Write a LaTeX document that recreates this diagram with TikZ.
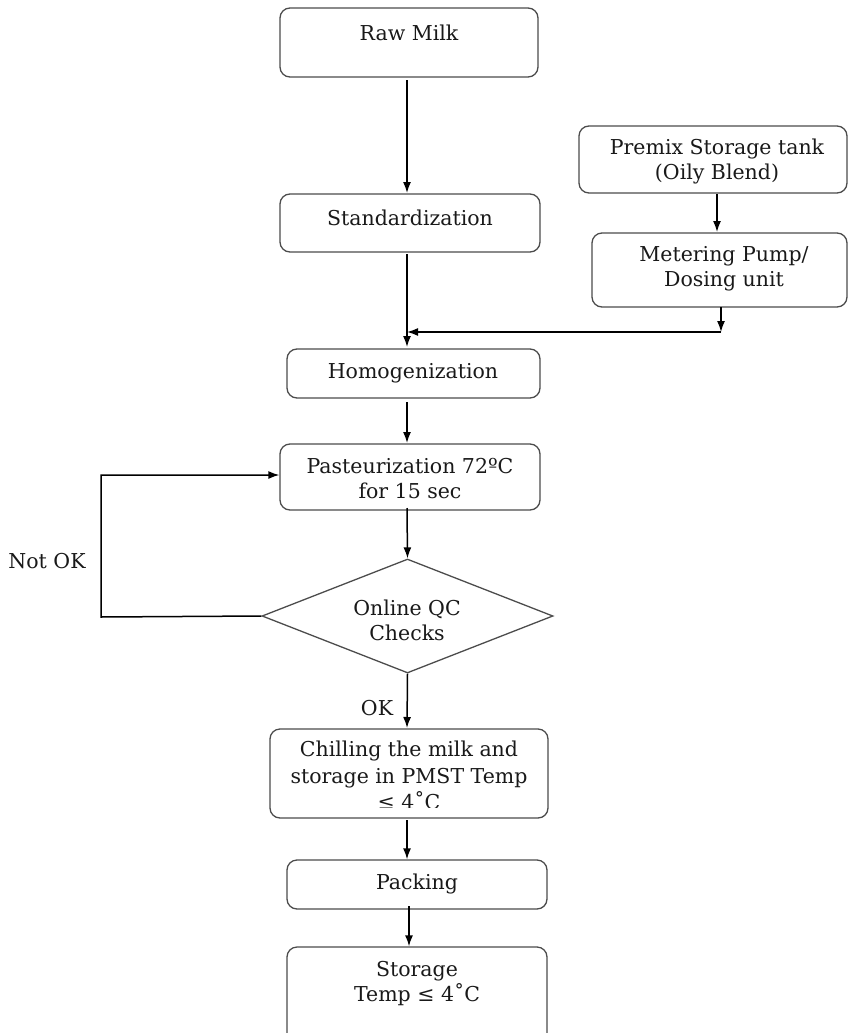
\documentclass[tikz,border=0pt]{standalone}
\usepackage{fontspec}
\setmainfont{DejaVu Serif}
\usetikzlibrary{shapes.geometric,arrows.meta,calc}
\begin{document}
\begin{tikzpicture}[x=1pt,y=-1pt,
  box/.style={draw=black!70,line width=1.3pt,rounded corners=10pt,inner sep=0pt},
  lbl/.style={font=\fontsize{20.5}{25}\selectfont,align=center,text=black!90,inner sep=0pt},
  arr/.style={line width=1.5pt,-{Latex[length=11pt,width=8pt]}},
  ln/.style={line width=1.5pt}]
\useasboundingbox (0,0) rectangle (849,1033);
% boxes
\node[box,minimum width=258pt,minimum height=69pt] (raw) at (409,42.5) {};
\node[lbl] at (409,33) {Raw Milk};
\node[box,minimum width=260pt,minimum height=58pt] (std) at (410,223) {};
\node[lbl] at (410,218) {Standardization};
\node[box,minimum width=268pt,minimum height=67pt] (prem) at (713,159.5) {};
\node[lbl] at (717,161) {Premix Storage tank\\(Oily Blend)};
\node[box,minimum width=255pt,minimum height=74pt] (meter) at (719.5,270) {};
\node[lbl] at (724,269) {Metering Pump/\\Dosing unit};
\node[box,minimum width=253pt,minimum height=49pt] (homo) at (413.5,373.5) {};
\node[lbl] at (413,373) {Homogenization};
\node[box,minimum width=260pt,minimum height=66pt] (past) at (410,477) {};
\node[lbl] at (410,479) {Pasteurization 72ºC\\for 15 sec};
\node[draw=black!70,line width=1.3pt,shape=diamond,inner sep=0pt,minimum width=291pt,minimum height=114pt] (qc) at (407.5,616) {};
\node[lbl] at (407,620) {Online QC\\Checks};
\node[box,minimum width=278pt,minimum height=89pt] (chill) at (409,773.5) {};
\begin{scope}
\clip (270,729) rectangle (548,807);
\node[lbl,font=\fontsize{20.5}{26.5}\selectfont,anchor=north] at (409,741) {Chilling the milk and\\storage in PMST Temp\\≤ 4˚C};
\end{scope}
\node[box,minimum width=260pt,minimum height=49pt] (pack) at (417,884.5) {};
\node[lbl] at (417,884) {Packing};
\node[box,minimum width=260pt,minimum height=100pt] (stor) at (417,997) {};
\node[lbl] at (417,984) {Storage\\Temp ≤ 4˚C};
% labels
\node[lbl] (notok) at (47,561) {Not OK};
\node[lbl] (ok) at (377,708) {OK};
% connectors
\coordinate (rawb) at (407,80);
\coordinate (stdt) at (407,193);
\draw[arr] (rawb) -- (stdt);
\coordinate (stdb) at (407,254);
\coordinate (homt) at (407,347);
\draw[arr] (stdb) -- (homt);
\coordinate (premb) at (717,194);
\coordinate (mett) at (717,232);
\draw[arr] (premb) -- (mett);
\coordinate (metb) at (721,307);
\coordinate (j) at (721,332);
\coordinate (jj) at (407,332);
\draw[arr] (metb) -- (j);
\draw[arr] (j) -- (jj);
\coordinate (homb) at (407,402);
\coordinate (pastt) at (407,443);
\draw[arr] (homb) -- (pastt);
\coordinate (pastb) at (407,508);
\draw[arr] (pastb) -- (qc.north);
\coordinate (c1) at (101,617);
\coordinate (c2) at (101,475);
\draw[arr] (qc.west) -- (c1) -- (c2) -- (c2 -| past.west);
\coordinate (chillt) at (407,728);
\draw[arr] (qc.south) -- (chillt);
\coordinate (chillb) at (407,820);
\draw[arr] (chillb) -- (pack.north -| chillb);
\coordinate (packb) at (409,906);
\draw[arr] (packb) -- (stor.north -| packb);
\end{tikzpicture}
\end{document}
